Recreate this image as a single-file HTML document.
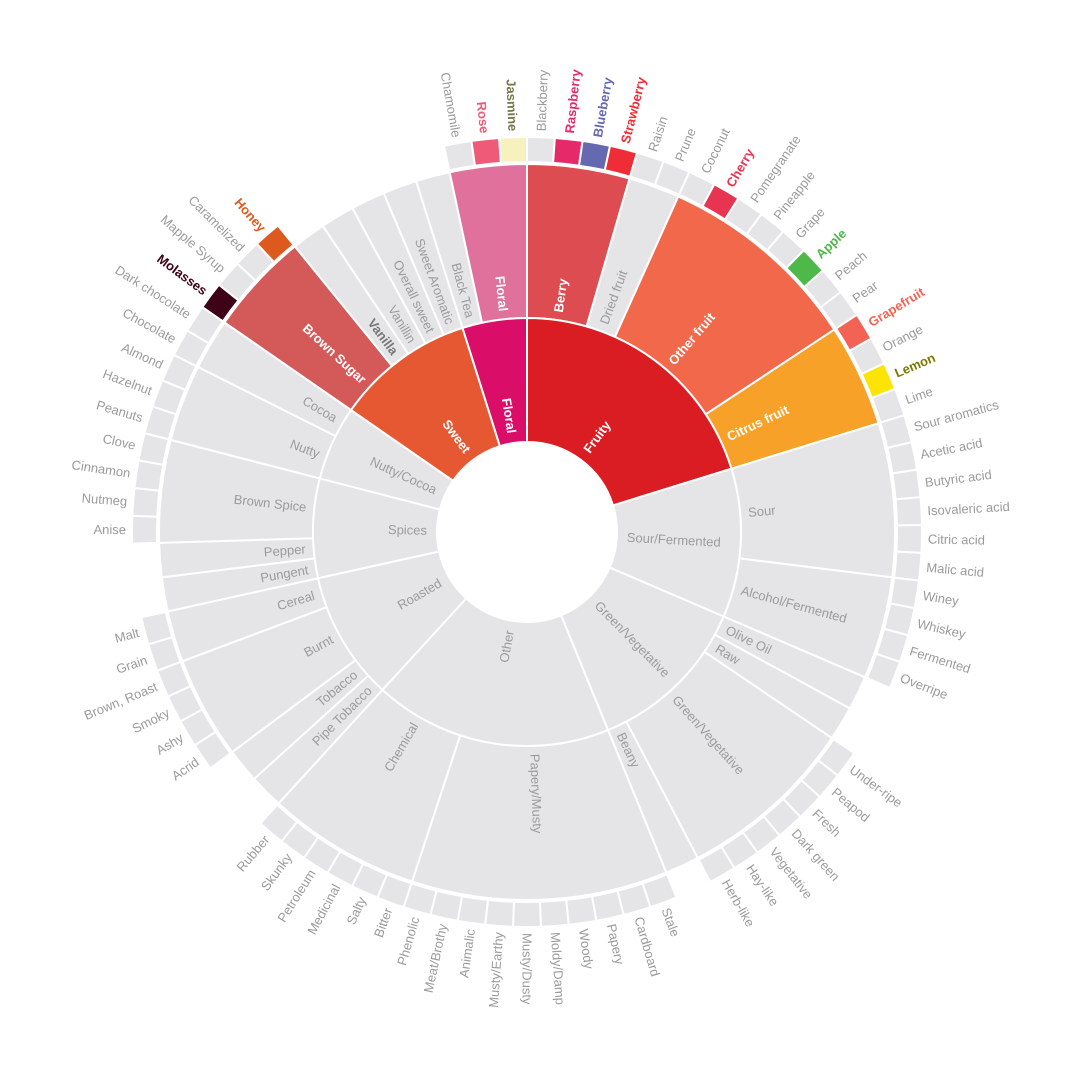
<!DOCTYPE html>
<html><head><meta charset="utf-8"><style>
html,body{margin:0;padding:0;background:#fff;}
svg{display:block;font-family:"Liberation Sans",sans-serif;}
</style></head><body>
<svg id="chart" width="1080" height="1080" viewBox="0 0 1080 1080" xmlns="http://www.w3.org/2000/svg"></svg>
<script>
const level1Names=["Fruity","Sour/Fermented","Green/Vegetative","Other","Roasted","Spices","Nutty/Cocoa","Sweet","Floral"];
const level2Names=["Berry","Dried fruit","Other fruit","Citrus fruit","Sour","Alcohol/Fermented","Olive Oil","Raw","Green/Vegetative","Beany","Papery/Musty","Chemical","Pipe Tobacco","Tobacco","Burnt","Cereal","Pungent","Pepper","Brown Spice","Nutty","Cocoa","Brown Sugar","Vanilla","Vanillin","Overall sweet","Sweet Aromatic","Black Tea","Floral"];
const level2Parent=[0,0,0,0,1,1,2,2,2,2,3,3,4,4,4,4,5,5,5,6,6,7,7,7,7,7,8,8];
const level2Values=[0,0,0,0,0,0,4,4,0,4,0,0,4,4,0,0,4,4,0,0,0,0,4,4,4,4,4,0];
const level3Names=["Blackberry","Raspberry","Blueberry","Strawberry","Raisin","Prune","Coconut","Cherry","Pomegranate","Pineapple","Grape","Apple","Peach","Pear","Grapefruit","Orange","Lemon","Lime","Sour aromatics","Acetic acid","Butyric acid","Isovaleric acid","Citric acid","Malic acid","Winey","Whiskey","Fermented","Overripe","Under-ripe","Peapod","Fresh","Dark green","Vegetative","Hay-like","Herb-like","Stale","Cardboard","Papery","Woody","Moldy/Damp","Musty/Dusty","Musty/Earthy","Animalic","Meat/Brothy","Phenolic","Bitter","Salty","Medicinal","Petroleum","Skunky","Rubber","Acrid","Ashy","Smoky","Brown, Roast","Grain","Malt","Anise","Nutmeg","Cinnamon","Clove","Peanuts","Hazelnut","Almond","Chocolate","Dark chocolate","Molasses","Mapple Syrup","Caramelized","Honey","Chamomile","Rose","Jasmine"];
const level3Parent=[0,0,0,0,1,1,2,2,2,2,2,2,2,2,3,3,3,3,4,4,4,4,4,4,5,5,5,5,8,8,8,8,8,8,8,10,10,10,10,10,10,10,10,10,10,11,11,11,11,11,11,14,14,14,14,15,15,18,18,18,18,19,19,19,20,20,21,21,21,21,27,27,27];
const level3Values=level3Names.map(()=>3);

const GREY="#e5e5e8";
const fill1={"Fruity":"#da1d23","Sweet":"#e65832","Floral":"#da0d68"};
const fill2={"Berry":"#dd4c51","Other fruit":"#f2684b","Citrus fruit":"#f7a128","Brown Sugar":"#d45a59","Floral":"#e0719c"};
const fill3={"Rose":"#ef5a78","Jasmine":"#f7f1bd","Raspberry":"#e62969","Blueberry":"#6569b0","Strawberry":"#ef2d36","Cherry":"#e73451","Apple":"#4eb849","Grapefruit":"#f26355","Lemon":"#fde404","Honey":"#dc5a1e","Molasses":"#3e0317"};
const text3={"Jasmine":"#77774c","Lemon":"#7a7a00"};

const CX=527,CY=532;
const R=[90,214,368,370,395];
const svg=document.getElementById('chart');
const NS="http://www.w3.org/2000/svg";
function pt(r,a){const t=a*Math.PI/180;return [CX+r*Math.sin(t),CY-r*Math.cos(t)];}
function arc(r0,r1,a0,a1){
  const p1=pt(r1,a0),p2=pt(r1,a1),p3=pt(r0,a1),p4=pt(r0,a0);const l=(a1-a0)>180?1:0;
  return `M${p1[0]},${p1[1]}A${r1},${r1} 0 ${l} 1 ${p2[0]},${p2[1]}L${p3[0]},${p3[1]}A${r0},${r0} 0 ${l} 0 ${p4[0]},${p4[1]}Z`;
}
function slug(s){return s.toLowerCase().replace(/[^a-z0-9]+/g,'-').replace(/^-|-$/g,'');}
function sector(r0,r1,a0,a1,color,name){
  const p=document.createElementNS(NS,'path');
  p.setAttribute('d',arc(r0,r1,a0,a1));p.setAttribute('fill',color);
  p.setAttribute('stroke','#fff');p.setAttribute('stroke-width','2');
  
  
  svg.appendChild(p);
}
function label(r,a,txt,color,weight,size,name){
  const [x,y]=pt(r,a);const t=document.createElementNS(NS,'text');
  const right=a<180;
  const rot=right?a-90:a+90;
  t.setAttribute('x',x);t.setAttribute('y',y);
  t.setAttribute('text-anchor',right?'start':'end');
  t.setAttribute('dominant-baseline','central');
  t.setAttribute('transform',`rotate(${rot} ${x} ${y})`);
  t.setAttribute('fill',color);t.setAttribute('font-size',size);
  if(weight)t.setAttribute('font-weight',weight);
  t.textContent=txt;
  
  
  svg.appendChild(t);
}
const total=level2Values.reduce((s,v)=>s+v,0)+level3Values.reduce((s,v)=>s+v,0);
const k=360/total;
let ang=0;const labels=[];
level1Names.forEach((n1,i1)=>{
  const a1s=ang;
  level2Names.forEach((n2,i2)=>{
    if(level2Parent[i2]!==i1)return;
    const a2s=ang;
    if(level2Values[i2]>0){ang+=level2Values[i2]*k;}
    else{
      level3Names.forEach((n3,i3)=>{
        if(level3Parent[i3]!==i2)return;
        const a3s=ang;ang+=level3Values[i3]*k;
        sector(R[3],R[4],a3s,ang,fill3[n3]||GREY,'leaf-'+slug(n3));
        const hl=!!fill3[n3];
        labels.push([R[4]+6,(a3s+ang)/2,n3,text3[n3]||fill3[n3]||'#9b9b9b',hl?'bold':null,13,'leaf-label-'+slug(n3)]);
      });
    }
    sector(R[1],R[2],a2s,ang,fill2[n2]||GREY,'segment-'+slug(n2));
    const c2=fill2[n2]?'#fff':(n2==='Vanilla'?'#777':'#9b9b9b');
    labels.push([R[1]+8,(a2s+ang)/2,n2,c2,(fill2[n2]||n2==='Vanilla')?'bold':null,13,'segment-label-'+slug(n2)]);
  });
  sector(R[0],R[1],a1s,ang,fill1[n1]||GREY,'category-'+slug(n1));
  labels.push([R[0]+10,(a1s+ang)/2,n1,fill1[n1]?'#fff':'#9b9b9b',fill1[n1]?'bold':null,13,'category-label-'+slug(n1)]);
});
labels.forEach(l=>label(...l));
</script>
</body></html>
